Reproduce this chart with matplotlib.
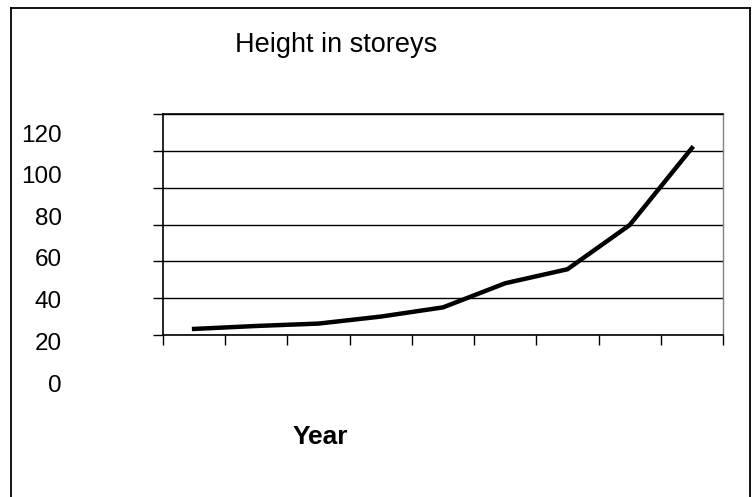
import matplotlib
matplotlib.use("Agg")
import matplotlib.pyplot as plt
from matplotlib.lines import Line2D

plt.rcParams['font.family'] = ['Liberation Sans', 'DejaVu Sans']

# --- data ---
positions = list(range(9))
heights = [3.3, 4.9, 6.2, 10.0, 15.0, 28.1, 35.7, 59.7, 101.5]
grid_vals = [0, 20, 40, 60, 80, 100, 120]
label_vals = [0, 20, 40, 60, 80, 100, 120]
label_text = ['0', '20', '40', '60', '80', '100', '120']

W, H = 753, 497
fig = plt.figure(figsize=(W / 100, H / 100), dpi=100)

def fx(px):
    return px / W

def fy(py):
    return 1 - py / H

# outer frame (left, top, right; bottom is cut off)
for xs, ys in [([11, 11], [8, 497]), ([11, 750], [8, 8]), ([750, 750], [8, 497])]:
    fig.add_artist(Line2D([fx(x) for x in xs], [fy(y) for y in ys],
                          color='black', lw=1.3, transform=fig.transFigure))

# main plot area
ax = fig.add_axes([fx(163), fy(335), fx(723) - fx(163), fy(114) - fy(335)])
ax.plot(positions, heights, color='black', lw=3.2, solid_joinstyle='miter')
ax.set_xlim(-0.5, 8.5)
ax.set_ylim(0, 120)
ax.set_yticks(grid_vals)
ax.set_yticklabels([])
ax.set_xticks([p - 0.5 for p in positions] + [8.5])
ax.set_xticklabels([])
ax.tick_params(axis='both', direction='out', length=7, width=1, color='black')
ax.grid(axis='y', color='black', lw=1)
ax.set_axisbelow(True)
for side in ['left', 'bottom', 'top']:
    ax.spines[side].set_color('black')
    ax.spines[side].set_linewidth(1.2)
ax.spines['right'].set_color('#808080')
ax.spines['right'].set_linewidth(1.0)

# value labels (they sit on their own, shifted scale in the picture)
lab = fig.add_axes([fx(66), fy(383), 0.0005, fy(133) - fy(383)])
lab.set_ylim(0, 120)
lab.set_yticks(label_vals)
lab.set_yticklabels(label_text, fontsize=17.5)
lab.tick_params(axis='y', length=0, pad=3)
lab.set_xticks([])
for s in lab.spines.values():
    s.set_visible(False)
lab.patch.set_alpha(0)

fig.text(fx(336), fy(45), 'Height in storeys', fontsize=19.5, ha='center', va='center')
fig.text(fx(320), fy(437), 'Year', fontsize=19, fontweight='bold', ha='center', va='center')
# descender of a cut-off word above the frame
fig.text(fx(107), fy(-9), 'g', fontsize=16, ha='center', va='baseline')

fig.savefig('out.png', dpi=100)
